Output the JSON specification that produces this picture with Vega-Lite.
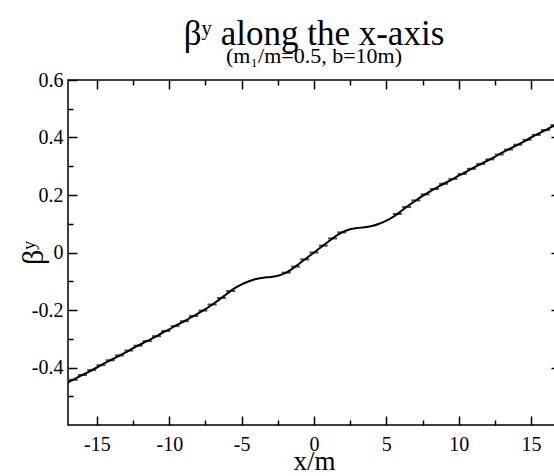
{
  "$schema": "https://vega.github.io/schema/vega-lite/v6.json",
  "width": 492,
  "height": 345,
  "autosize": {"type": "none"},
  "padding": {"left": 68, "top": 80, "right": -6, "bottom": 51},
  "background": "white",
  "config": {
    "font": "Liberation Serif",
    "view": {"stroke": "#000", "strokeWidth": 1.5},
    "axis": {"domain": false, "grid": false, "tickColor": "#000", "tickWidth": 1.5, "labelOverlap": false, "labelFlush": false, "zindex": 1}
  },
  "title": {
    "text": "βʸ along the x-axis",
    "subtitle": "(m₁/m=0.5, b=10m)",
    "font": "Liberation Serif",
    "subtitleFont": "Liberation Serif",
    "fontSize": 35,
    "fontWeight": "normal",
    "subtitleFontSize": 22,
    "subtitlePadding": -6,
    "color": "#000",
    "subtitleColor": "#000",
    "anchor": "middle",
    "offset": 3
  },
  "datasets": {
    "curve": [
      {"x": -17, "by": -0.452}, {"x": -16.5, "by": -0.439}, {"x": -16, "by": -0.426}, {"x": -15.5, "by": -0.413},
      {"x": -15, "by": -0.4}, {"x": -14.5, "by": -0.386}, {"x": -14, "by": -0.373}, {"x": -13.5, "by": -0.36},
      {"x": -13, "by": -0.347}, {"x": -12.5, "by": -0.333}, {"x": -12, "by": -0.32}, {"x": -11.5, "by": -0.307},
      {"x": -11, "by": -0.294}, {"x": -10.5, "by": -0.28}, {"x": -10, "by": -0.267}, {"x": -9.5, "by": -0.253},
      {"x": -9, "by": -0.24}, {"x": -8.5, "by": -0.226}, {"x": -8, "by": -0.212}, {"x": -7.5, "by": -0.197},
      {"x": -7, "by": -0.18}, {"x": -6.5, "by": -0.162}, {"x": -6, "by": -0.143}, {"x": -5.5, "by": -0.125},
      {"x": -5, "by": -0.111}, {"x": -4.5, "by": -0.1}, {"x": -4, "by": -0.092}, {"x": -3.5, "by": -0.088},
      {"x": -3, "by": -0.085}, {"x": -2.5, "by": -0.081}, {"x": -2, "by": -0.072}, {"x": -1.5, "by": -0.057},
      {"x": -1, "by": -0.038}, {"x": -0.5, "by": -0.019}, {"x": 0, "by": 0},
      {"x": 0.5, "by": 0.019}, {"x": 1, "by": 0.038}, {"x": 1.5, "by": 0.057}, {"x": 2, "by": 0.072},
      {"x": 2.5, "by": 0.081}, {"x": 3, "by": 0.085}, {"x": 3.5, "by": 0.088}, {"x": 4, "by": 0.092},
      {"x": 4.5, "by": 0.1}, {"x": 5, "by": 0.111}, {"x": 5.5, "by": 0.125}, {"x": 6, "by": 0.143},
      {"x": 6.5, "by": 0.162}, {"x": 7, "by": 0.18}, {"x": 7.5, "by": 0.197}, {"x": 8, "by": 0.212},
      {"x": 8.5, "by": 0.226}, {"x": 9, "by": 0.24}, {"x": 9.5, "by": 0.253}, {"x": 10, "by": 0.267},
      {"x": 10.5, "by": 0.28}, {"x": 11, "by": 0.294}, {"x": 11.5, "by": 0.307}, {"x": 12, "by": 0.32},
      {"x": 12.5, "by": 0.333}, {"x": 13, "by": 0.347}, {"x": 13.5, "by": 0.36}, {"x": 14, "by": 0.373},
      {"x": 14.5, "by": 0.386}, {"x": 15, "by": 0.4}, {"x": 15.5, "by": 0.413}, {"x": 16, "by": 0.426},
      {"x": 16.5, "by": 0.439}, {"x": 17, "by": 0.452}
    ],
    "samples": [
      {"x": -16.64, "by": -0.443}, {"x": -16.0, "by": -0.426}, {"x": -15.36, "by": -0.409}, {"x": -14.72, "by": -0.392},
      {"x": -14.08, "by": -0.375}, {"x": -13.44, "by": -0.358}, {"x": -12.8, "by": -0.341}, {"x": -12.16, "by": -0.324},
      {"x": -11.52, "by": -0.308}, {"x": -10.88, "by": -0.291}, {"x": -10.24, "by": -0.273}, {"x": -9.6, "by": -0.256},
      {"x": -8.96, "by": -0.239}, {"x": -8.32, "by": -0.221}, {"x": -7.68, "by": -0.202}, {"x": -7.04, "by": -0.181},
      {"x": -6.4, "by": -0.158}, {"x": -5.76, "by": -0.134},
      {"x": -1.92, "by": -0.07}, {"x": -1.28, "by": -0.049}, {"x": -0.64, "by": -0.024}, {"x": 0, "by": 0},
      {"x": 0.64, "by": 0.024}, {"x": 1.28, "by": 0.049}, {"x": 1.92, "by": 0.07},
      {"x": 5.76, "by": 0.134}, {"x": 6.4, "by": 0.158}, {"x": 7.04, "by": 0.181}, {"x": 7.68, "by": 0.202},
      {"x": 8.32, "by": 0.221}, {"x": 8.96, "by": 0.239}, {"x": 9.6, "by": 0.256}, {"x": 10.24, "by": 0.273},
      {"x": 10.88, "by": 0.291}, {"x": 11.52, "by": 0.308}, {"x": 12.16, "by": 0.324}, {"x": 12.8, "by": 0.341},
      {"x": 13.44, "by": 0.358}, {"x": 14.08, "by": 0.375}, {"x": 14.72, "by": 0.392}, {"x": 15.36, "by": 0.409},
      {"x": 16.0, "by": 0.426}, {"x": 16.64, "by": 0.443}
    ]
  },
  "layer": [
    {
      "data": {"name": "curve"},
      "mark": {"type": "line", "color": "#000", "strokeWidth": 2, "interpolate": "monotone", "clip": true},
      "encoding": {
        "x": {
          "field": "x", "type": "quantitative",
          "scale": {"domain": [-17, 17], "nice": false, "zero": false},
          "axis": {
            "orient": "bottom",
            "values": [-15, -10, -5, 0, 5, 10, 15],
            "offset": -9, "tickSize": 9,
            "labelExpr": "toString(datum.value)",
            "labelFont": "Liberation Serif", "labelFontSize": 20, "labelColor": "#000",
            "labelPadding": 9,
            "title": "x/m", "titleFont": "Liberation Serif", "titleFontSize": 27,
            "titleFontWeight": "normal", "titleColor": "#000", "titlePadding": -6
          }
        },
        "y": {
          "field": "by", "type": "quantitative",
          "scale": {"domain": [-0.6, 0.6], "nice": false, "zero": false},
          "axis": {
            "orient": "left",
            "values": [-0.4, -0.2, 0, 0.2, 0.4, 0.6],
            "offset": -9, "tickSize": 9,
            "labelExpr": "toString(datum.value)",
            "labelFont": "Liberation Serif", "labelFontSize": 20, "labelColor": "#000",
            "labelPadding": 5,
            "title": "βʸ", "titleFont": "Liberation Serif", "titleFontSize": 30,
            "titleFontWeight": "normal", "titleColor": "#000", "titlePadding": -17
          }
        }
      }
    },
    {
      "data": {"name": "samples"},
      "mark": {"type": "tick", "orient": "horizontal", "color": "#000", "size": 9, "thickness": 2, "clip": true},
      "encoding": {
        "x": {
          "field": "x", "type": "quantitative",
          "scale": {"domain": [-17, 17], "nice": false, "zero": false},
          "axis": {"orient": "bottom", "values": [-12.5, -7.5, -2.5, 2.5, 7.5, 12.5], "offset": -5, "tickSize": 5, "labels": false, "title": null}
        },
        "y": {
          "field": "by", "type": "quantitative",
          "scale": {"domain": [-0.6, 0.6], "nice": false, "zero": false},
          "axis": {"orient": "left", "values": [-0.5, -0.3, -0.1, 0.1, 0.3, 0.5], "offset": -5, "tickSize": 5, "labels": false, "title": null}
        }
      }
    },
    {
      "data": {"name": "curve"},
      "mark": {"type": "point", "opacity": 0, "clip": true},
      "encoding": {
        "x": {
          "field": "x", "type": "quantitative",
          "scale": {"domain": [-17, 17], "nice": false, "zero": false},
          "axis": {"orient": "top", "values": [-15, -10, -5, 0, 5, 10, 15], "offset": -9, "tickSize": 9, "labels": false, "title": null}
        },
        "y": {
          "field": "by", "type": "quantitative",
          "scale": {"domain": [-0.6, 0.6], "nice": false, "zero": false},
          "axis": {"orient": "right", "values": [-0.4, -0.2, 0, 0.2, 0.4], "offset": -9, "tickSize": 9, "labels": false, "title": null}
        }
      }
    },
    {
      "data": {"name": "curve"},
      "mark": {"type": "point", "opacity": 0, "clip": true},
      "encoding": {
        "x": {
          "field": "x", "type": "quantitative",
          "scale": {"domain": [-17, 17], "nice": false, "zero": false},
          "axis": {"orient": "top", "values": [-12.5, -7.5, -2.5, 2.5, 7.5, 12.5], "offset": -5, "tickSize": 5, "labels": false, "title": null}
        },
        "y": {
          "field": "by", "type": "quantitative",
          "scale": {"domain": [-0.6, 0.6], "nice": false, "zero": false},
          "axis": {"orient": "right", "values": [-0.5, -0.3, -0.1, 0.1, 0.3, 0.5], "offset": -5, "tickSize": 5, "labels": false, "title": null}
        }
      }
    }
  ],
  "resolve": {"axis": {"x": "independent", "y": "independent"}}
}
